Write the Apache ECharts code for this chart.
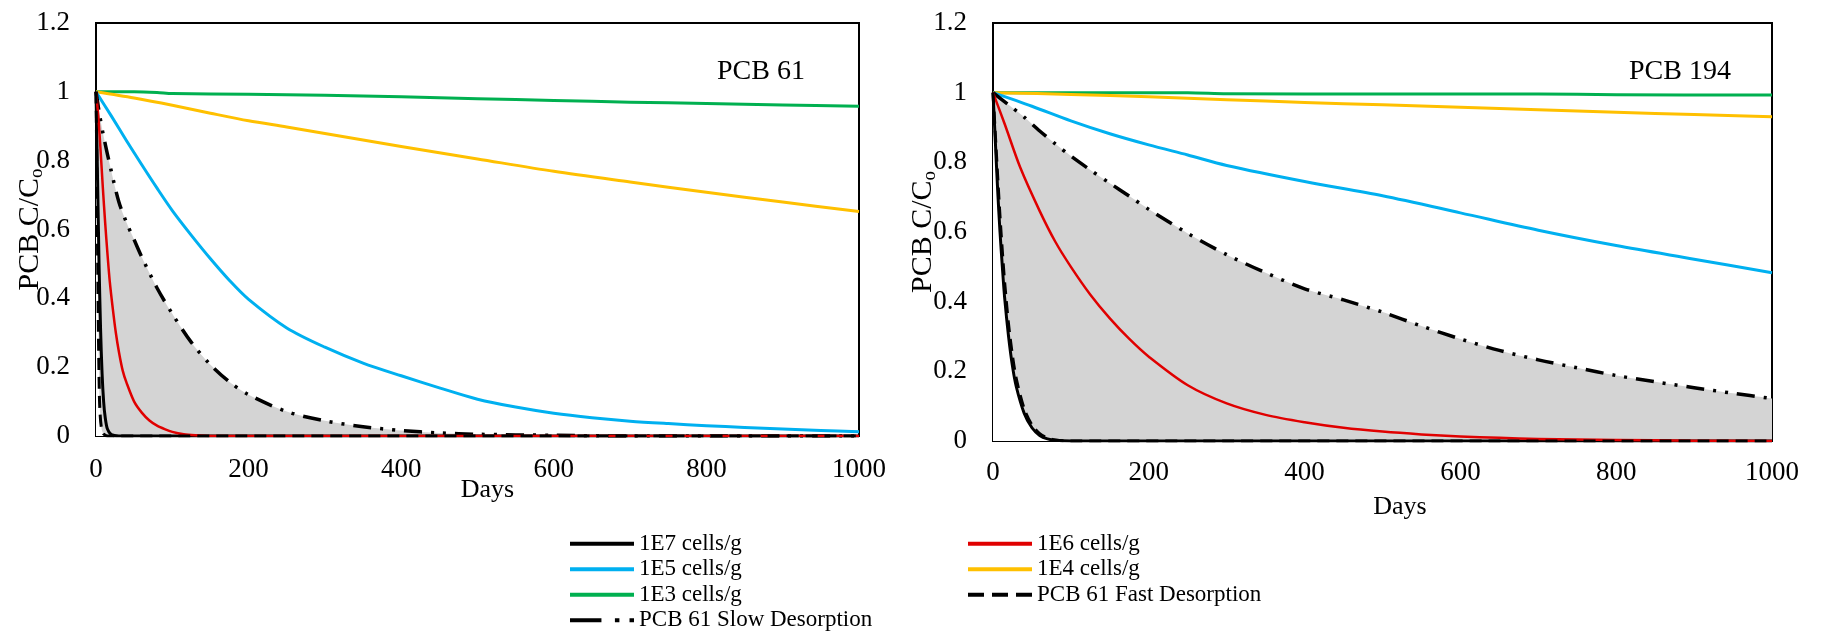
<!DOCTYPE html>
<html>
<head>
<meta charset="utf-8">
<script src="https://cdn.jsdelivr.net/npm/echarts@6/dist/echarts.min.js"></script>
<style>html,body{margin:0;padding:0;background:#fff}#c{width:1822px;height:633px}</style>
</head>
<body>
<div id="c"></div>
<script>
// ---------- data (days, C/Co) ----------
const xMin = 0, xMax = 1000, xStep = 200;
const yMin = 0, yMax = 1.2, yStep = 0.2;
const panelLabels = ['PCB 61', 'PCB 194'];
const seriesNames = ['1E7 cells/g', '1E6 cells/g', '1E5 cells/g', '1E4 cells/g', '1E3 cells/g',
  'PCB 61 Fast Desorption', 'PCB 61 Slow Desorption'];

// Panel 1: PCB 61
const pcb61_1E7 = [[0,1],[2,0.75],[4,0.5],[6,0.31],[8,0.18],[10,0.1],[12,0.055],[15,0.02],[20,0.004],[30,0],[1000,0]];
const pcb61_1E6 = [[0,1],[3,0.93],[6,0.83],[9,0.72],[12,0.62],[15,0.53],[18,0.45],[22,0.37],[26,0.3],[30,0.245],[35,0.19],[40,0.155],[50,0.1],[60,0.068],[70,0.045],[80,0.03],[90,0.02],[100,0.012],[115,0.005],[130,0.002],[150,0],[1000,0]];
const pcb61_1E5 = [[0,1],[20,0.93],[40,0.858],[60,0.788],[80,0.72],[100,0.655],[125,0.583],[150,0.515],[175,0.452],[200,0.397],[250,0.314],[300,0.258],[350,0.212],[400,0.175],[450,0.14],[500,0.107],[550,0.084],[600,0.066],[650,0.053],[700,0.043],[750,0.036],[800,0.03],[850,0.025],[900,0.02],[950,0.016],[1000,0.012]];
const pcb61_1E4 = [[0,1],[50,0.982],[100,0.961],[150,0.938],[200,0.916],[250,0.898],[300,0.879],[400,0.841],[500,0.805],[600,0.769],[700,0.738],[800,0.708],[900,0.68],[1000,0.652]];
const pcb61_1E3 = [[0,1],[50,1],[80,0.998],[100,0.995],[200,0.993],[300,0.99],[400,0.986],[500,0.98],[600,0.975],[700,0.97],[800,0.966],[900,0.962],[1000,0.958]];
const pcb61_fast = [[0,1],[1,0.8],[2,0.56],[3,0.33],[4,0.17],[5,0.08],[7,0.025],[10,0.006],[15,0],[1000,0]];
const pcb61_slow = [[0,1],[5,0.93],[10,0.87],[20,0.77],[30,0.68],[40,0.62],[50,0.57],[60,0.52],[80,0.43],[100,0.355],[125,0.272],[150,0.207],[175,0.157],[200,0.12],[250,0.071],[300,0.044],[350,0.027],[400,0.016],[450,0.009],[500,0.005],[600,0.002],[700,0],[1000,0]];

// Panel 2: PCB 194
const pcb194_1E7 = [[0,1],[3,0.86],[6,0.72],[9,0.6],[12,0.5],[15,0.41],[20,0.3],[25,0.215],[30,0.155],[40,0.08],[50,0.038],[60,0.016],[70,0.006],[80,0.002],[100,0],[1000,0]];
const pcb194_1E6 = [[0,1],[15,0.91],[35,0.785],[60,0.66],[80,0.572],[100,0.5],[125,0.42],[150,0.352],[175,0.293],[200,0.242],[250,0.16],[300,0.108],[350,0.075],[400,0.054],[450,0.038],[500,0.027],[550,0.019],[600,0.013],[650,0.009],[700,0.006],[800,0.003],[900,0.001],[1000,0]];
const pcb194_1E5 = [[0,1],[50,0.961],[100,0.919],[150,0.882],[200,0.85],[250,0.821],[300,0.791],[400,0.745],[500,0.704],[600,0.655],[700,0.605],[800,0.561],[900,0.522],[1000,0.483]];
const pcb194_1E4 = [[0,1],[100,0.995],[200,0.988],[300,0.98],[400,0.972],[500,0.965],[600,0.958],[700,0.951],[800,0.944],[900,0.937],[1000,0.931]];
const pcb194_1E3 = [[0,1],[250,1],[300,0.997],[500,0.996],[700,0.996],[800,0.994],[1000,0.993]];
const pcb194_fast = [[0,1],[3,0.88],[6,0.76],[9,0.645],[12,0.545],[15,0.455],[20,0.335],[25,0.245],[30,0.178],[40,0.093],[50,0.046],[60,0.021],[70,0.009],[80,0.003],[100,0],[1000,0]];
const pcb194_slow = [[0,1],[20,0.965],[40,0.93],[60,0.89],[80,0.853],[100,0.818],[125,0.778],[150,0.74],[175,0.703],[200,0.665],[250,0.596],[300,0.535],[350,0.483],[400,0.437],[450,0.405],[500,0.37],[550,0.33],[600,0.293],[650,0.26],[700,0.233],[750,0.21],[800,0.188],[850,0.17],[900,0.153],[950,0.137],[1000,0.122]];

// ---------- styling ----------
const FONT = '"Liberation Serif","Times New Roman",serif';
const C = { k: '#000000', r: '#e00000', b: '#00b0f0', o: '#ffc000', g: '#00b050', fill: '#d4d4d4' };
const FAST_DASH = [12, 7];
const SLOW_DASH = [18, 9, 3, 9, 3, 9];
const SMOOTH = 0.3;

const panels = [
  { d: { e7: pcb61_1E7, e6: pcb61_1E6, e5: pcb61_1E5, e4: pcb61_1E4, e3: pcb61_1E3, fast: pcb61_fast, slow: pcb61_slow } },
  { d: { e7: pcb194_1E7, e6: pcb194_1E6, e5: pcb194_1E5, e4: pcb194_1E4, e3: pcb194_1E3, fast: pcb194_fast, slow: pcb194_slow } }
];

function lineSeries(i, name, data, color, width, type) {
  return {
    type: 'line', name: name, xAxisIndex: i, yAxisIndex: i, data: data,
    smooth: SMOOTH, symbol: 'none', color: color,
    lineStyle: { color: color, width: width, type: type || 'solid', cap: 'butt', join: 'round' },
    silent: true, animation: false
  };
}
function fillSeries(i, name, data, color) {
  return {
    type: 'line', name: name, xAxisIndex: i, yAxisIndex: i, data: data,
    smooth: SMOOTH, symbol: 'none',
    lineStyle: { width: 0, opacity: 0 }, areaStyle: { color: color, opacity: 1 },
    silent: true, animation: false
  };
}

const series = [];
panels.forEach((p, i) => {
  const d = p.d;
  series.push(fillSeries(i, 'slowFill', d.slow, C.fill));
  series.push(fillSeries(i, 'fastFill', d.fast, '#ffffff'));
  series.push(lineSeries(i, seriesNames[4], d.e3, C.g, 3));
  series.push(lineSeries(i, seriesNames[3], d.e4, C.o, 3));
  series.push(lineSeries(i, seriesNames[2], d.e5, C.b, 3));
  series.push(lineSeries(i, seriesNames[0], d.e7, C.k, 3));
  series.push(lineSeries(i, seriesNames[6], d.slow, C.k, 3.5, SLOW_DASH));
  series.push(lineSeries(i, seriesNames[1], d.e6, C.r, 2.5));
  series.push(lineSeries(i, seriesNames[5], d.fast, C.k, 3, FAST_DASH));
});

const gridDefs = [
  { left: 96, top: 23, width: 763, height: 413 },
  { left: 993, top: 23, width: 779, height: 418 }
];
const xLabelMargin = [20, 18];
const xNameGap = [41, 53];
const xNamePad = [20, 35];
const yNameGap = [49, 53];

const grid = gridDefs.map(g => Object.assign({ show: true, borderColor: '#000', borderWidth: 2, backgroundColor: 'transparent', z: 3 }, g));

const xAxis = gridDefs.map((g, i) => ({
  type: 'value', gridIndex: i, min: xMin, max: xMax, interval: xStep,
  axisLine: { show: false }, axisTick: { show: false }, splitLine: { show: false },
  axisLabel: { color: '#000', fontFamily: FONT, fontSize: 27, margin: xLabelMargin[i], formatter: v => String(v) },
  name: 'Days', nameLocation: 'middle', nameGap: xNameGap[i], nameMoveOverlap: false,
  nameTextStyle: { color: '#000', fontFamily: FONT, fontSize: 26, padding: [0, 0, 0, xNamePad[i]] }
}));

const yAxis = gridDefs.map((g, i) => ({
  type: 'value', gridIndex: i, min: yMin, max: yMax, interval: yStep,
  axisLine: { show: false }, axisTick: { show: false }, splitLine: { show: false },
  axisLabel: { color: '#000', fontFamily: FONT, fontSize: 27, margin: 26, formatter: v => String(+v.toFixed(1)) },
  name: '{a|PCB C/C}{b|o}', nameLocation: 'middle', nameGap: yNameGap[i], nameMoveOverlap: false,
  nameTextStyle: {
    rich: {
      a: { color: '#000', fontFamily: FONT, fontSize: 30, lineHeight: 34 },
      b: { color: '#000', fontFamily: FONT, fontSize: 19, verticalAlign: 'bottom', lineHeight: 34 }
    }
  }
}));

const ICON_SOLID = 'path://M0,0H64V4H0Z';
const ICON_FAST = 'path://M0,0H16V4H0Z M24,0H40V4H24Z M48,0H64V4H48Z';
const ICON_SLOW = 'path://M0,0H28V4H0Z M40,0H44V4H40Z M53,0H57V4H53Z';
const legendColors = { '1E7 cells/g': C.k, '1E6 cells/g': C.r, '1E5 cells/g': C.b, '1E4 cells/g': C.o, '1E3 cells/g': C.g,
  'PCB 61 Fast Desorption': C.k, 'PCB 61 Slow Desorption': C.k };
const legendIcons = { 'PCB 61 Fast Desorption': ICON_FAST, 'PCB 61 Slow Desorption': ICON_SLOW };
function legendItem(n) {
  return { name: n, icon: legendIcons[n] || ICON_SOLID, itemStyle: { color: legendColors[n], borderWidth: 0 } };
}
const legendBase = {
  orient: 'vertical', itemWidth: 64, itemHeight: 4, itemGap: 0, padding: 0,
  symbolKeepAspect: false, selectedMode: false,
  textStyle: { color: '#000', fontFamily: FONT, fontSize: 23, lineHeight: 25.5 }
};
const legend = [
  Object.assign({}, legendBase, { left: 570, top: 531, data: [seriesNames[0], seriesNames[2], seriesNames[4], seriesNames[6]].map(legendItem) }),
  Object.assign({}, legendBase, { left: 968, top: 531, data: [seriesNames[1], seriesNames[3], seriesNames[5]].map(legendItem) })
];

const graphic = [
  { type: 'text', x: 717, y: 72, style: { text: panelLabels[0], font: '28px ' + FONT, fill: '#000', verticalAlign: 'middle' } },
  { type: 'text', x: 1629, y: 72, style: { text: panelLabels[1], font: '28px ' + FONT, fill: '#000', verticalAlign: 'middle' } }
];

const chart = echarts.init(document.getElementById('c'), null, { renderer: 'canvas' });
chart.setOption({
  animation: false,
  backgroundColor: '#ffffff',
  grid: grid, xAxis: xAxis, yAxis: yAxis, legend: legend, graphic: graphic, series: series
});
</script>
</body>
</html>
